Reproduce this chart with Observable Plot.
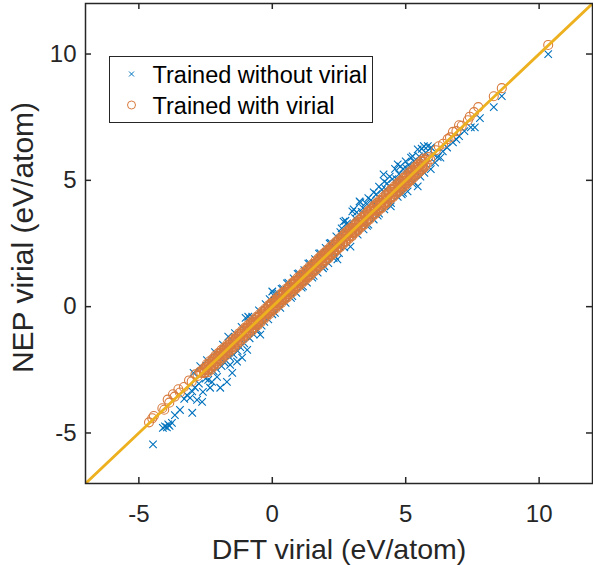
<!DOCTYPE html>
<html><head><meta charset="utf-8">
<script src="https://cdn.jsdelivr.net/npm/d3@7"></script>
<script src="https://cdn.jsdelivr.net/npm/@observablehq/plot@0.6"></script>
<style>
body{margin:0;background:#fff;}
#wrap{position:relative;width:593px;height:565px;font-family:"Liberation Sans",Arial,Helvetica,sans-serif;}
#legend{position:absolute;left:109px;top:56px;width:264px;height:67px;box-sizing:border-box;border:1.5px solid #262626;background:#fff;}
#legend svg{position:absolute;left:0;top:0;}
</style></head>
<body><div id="wrap"></div>
<script>
// ---- data ----
const xTicks = [-5, 0, 5, 10];
const yTicks = [-5, 0, 5, 10];
const axisLimits = [-7, 12];
const diagonal = [-7, 12];
const xLabel = "DFT virial (eV/atom)";
const yLabel = "NEP virial (eV/atom)";
const legendLabels = ["Trained without virial", "Trained with virial"];

// [DFT virial, NEP virial] — trained without virial (blue crosses)
const withoutVirial = [
[-4.47,-5.45],[-4.10,-4.80],[-4.02,-4.74],[-3.95,-4.78],[-3.90,-4.66],[-3.85,-4.72],[-3.76,-4.60],[-3.65,-4.29],[-3.46,-4.09],[-3.00,-4.20],[-3.08,-3.61],[-2.82,-3.69],[-2.63,-3.77],[-2.60,-3.37],[-2.33,-3.21],[-1.95,-3.21],[-2.26,-2.98],[-2.07,-2.78],[-1.70,-2.98],[-1.50,-2.62],[-1.58,-2.30],[-1.32,-2.18],[-1.13,-2.02],[-0.94,-1.71],[-0.45,-1.11],[-0.56,-0.91],[-1.65,-1.19],[-1.00,-0.44],[-0.90,-0.40],
[-3.30,-3.65],[-3.20,-3.50],[-3.00,-3.35],[-2.90,-3.20],[-2.75,-3.05],[-2.50,-2.85],[-2.40,-2.90],[-2.20,-2.55],[-2.10,-2.45],[-1.90,-2.35],[-1.80,-2.20],[-1.60,-2.00],[-1.45,-1.90],[-1.30,-1.75],[-1.20,-1.60],[-1.05,-1.45],[-0.85,-1.25],[-0.70,-1.10],[-0.60,-0.95],[-0.40,-0.75],[-0.30,-0.60],[-0.15,-0.50],[0.00,-0.30],
[-2.95,-2.62],[-2.70,-2.35],[-2.45,-2.12],[-2.15,-1.80],[-1.85,-1.50],[-1.40,-1.05],[-1.15,-0.80],[-0.75,-0.40],[-0.50,-0.15],[-0.25,0.10],
[0.00,0.60],[0.05,0.45],[-0.10,0.30],[0.10,-0.25],[0.20,0.55],[0.30,-0.05],[0.40,0.72],[0.50,0.15],[0.60,0.95],[0.70,0.35],[0.80,1.12],[0.90,0.55],[1.00,1.32],[1.10,0.75],[1.20,1.45],[1.30,0.95],[1.40,1.72],[1.50,1.15],[1.60,1.88],[1.70,1.35],[1.80,2.12],[1.90,1.52],[2.00,2.33],[2.10,1.72],[2.20,2.52],[2.30,1.92],[2.40,2.78],[2.50,2.12],
[2.67,3.37],[3.00,3.77],[3.30,4.13],[3.16,3.73],[2.74,3.40],[3.05,3.85],[3.27,4.17],[2.60,3.10],[2.80,3.30],[3.10,3.50],[3.40,3.90],[3.50,4.10],[3.60,4.30],[3.70,4.22],[3.80,4.52],[3.90,4.45],[4.00,4.75],[4.10,4.62],[4.17,5.24],[4.20,4.95],[4.30,4.88],[4.40,5.15],[4.50,5.05],[4.60,5.45],[4.70,5.63],[4.75,5.25],[4.80,5.55],[4.90,5.45],[5.00,5.75],[5.10,5.60],[5.20,5.90],[5.26,5.95],[5.30,5.75],[5.45,6.23],[5.50,5.95],[5.60,6.25],[5.68,6.35],[5.83,6.35],
[2.44,1.87],[2.93,2.38],[3.42,3.06],[3.80,3.45],[4.44,3.97],[5.07,4.56],[5.45,4.76],[5.94,5.44],[2.70,2.35],[3.20,2.85],[3.60,3.25],[4.00,3.68],[4.20,3.85],[4.70,4.35],[4.90,4.50],[5.30,4.95],[5.70,5.30],[6.10,5.70],[6.30,5.90],
[6.05,6.03],[6.39,6.15],[6.77,6.50],[7.00,6.75],[7.44,7.10],[7.59,7.10],[7.78,7.46],[8.30,7.90],[8.60,8.33],[10.34,10.00],[6.55,6.30],[6.90,6.62],[7.20,6.95],
[0.15,0.52],[0.35,0.70],[0.55,0.92],[0.75,0.42],[0.95,1.30],[1.15,0.80],[1.35,1.70],[1.55,1.22],[1.75,2.10],[1.95,1.60],[2.15,2.50],[2.35,2.00],[2.55,2.95],[2.85,3.25],[3.35,3.75],[3.55,3.20],[3.75,4.15],[3.95,3.60],[4.25,4.65],[4.45,4.10],[4.65,5.05],[4.85,4.45],[5.05,5.45],[5.25,4.88],[5.55,5.15],[5.75,6.10],[5.95,6.30],[6.20,5.92]
];

// [DFT virial, NEP virial] — trained with virial (orange circles)
const withVirial = [
[-4.62,-4.58],[-4.50,-4.42],[-4.44,-4.33],[-4.12,-4.02],[-4.05,-4.08],[-3.92,-3.68],[-3.86,-3.80],[-3.72,-3.47],[-3.66,-3.56],[-3.52,-3.27],[-3.46,-3.40],[-3.31,-3.18],[-3.12,-2.92],[-3.02,-2.96],[-2.88,-2.68],[-2.80,-2.74],[-2.72,-2.58],[-2.66,-2.62],
[-2.60,-2.47],[-2.55,-2.63],[-2.49,-2.40],[-2.44,-2.50],[-2.38,-2.27],[-2.33,-2.44],[-2.27,-2.19],[-2.21,-2.31],[-2.16,-2.03],[-2.10,-2.21],[-2.04,-1.97],[-1.99,-2.07],[-1.93,-1.81],[-1.88,-1.99],[-1.82,-1.73],[-1.76,-1.85],[-1.71,-1.58],[-1.65,-1.77],[-1.60,-1.51],[-1.54,-1.62],[-1.48,-1.36],[-1.43,-1.54],[-1.37,-1.28],[-1.32,-1.40],[-1.26,-1.13],[-1.20,-1.32],[-1.15,-1.06],[-1.09,-1.18],[-1.04,-0.90],[-0.98,-1.10],[-0.92,-0.83],[-0.87,-0.95],[-0.81,-0.68],[-0.75,-0.88],[-0.70,-0.60],[-0.64,-0.72],[-0.58,-0.45],[-0.53,-0.65],[-0.47,-0.38],[-0.42,-0.50],[-0.36,-0.22],[-0.30,-0.43],[-0.25,-0.15],[-0.19,-0.28],[-0.13,0.00],[-0.08,-0.21],[-0.02,0.12],[0.04,-0.10],[0.09,0.19],[0.15,0.05],[0.21,0.34],[0.26,0.12],[0.32,0.42],[0.37,0.27],[0.43,0.57],[0.49,0.34],[0.54,0.64],[0.60,0.49],[0.66,0.80],[0.71,0.56],[0.77,0.87],[0.83,0.71],[0.88,1.02],[0.94,0.79],[1.00,1.10],[1.05,0.94],[1.11,1.25],[1.16,1.01],[1.22,1.32],[1.28,1.16],[1.33,1.48],[1.39,1.24],[1.45,1.55],[1.50,1.39],[1.56,1.70],[1.62,1.46],[1.67,1.77],[1.73,1.61],[1.78,1.93],[1.84,1.68],[1.90,2.00],[1.95,1.84],[2.01,2.15],[2.07,1.91],[2.12,2.22],[2.18,2.06],[2.24,2.38],[2.29,2.13],[2.35,2.45],[2.40,2.28],[2.46,2.60],[2.52,2.36],[2.57,2.67],[2.63,2.51],[2.69,2.83],[2.74,2.58],[2.80,2.90],[2.86,2.73],[2.91,3.05],[2.97,2.80],[3.02,3.12],[3.08,2.96],[3.14,3.28],[3.19,3.03],[3.25,3.35],[3.31,3.18],[3.36,3.50],[3.42,3.25],[3.48,3.58],[3.53,3.41],[3.59,3.73],[3.64,3.48],[3.70,3.80],[3.76,3.63],[3.81,3.95],[3.87,3.70],[3.93,4.03],[3.98,3.86],[4.04,4.18],[4.10,3.93],[4.15,4.25],[4.21,4.08],[4.26,4.40],[4.32,4.15],[4.38,4.48],[4.43,4.31],[4.49,4.63],[4.55,4.38],[4.60,4.70],[4.66,4.53],[4.72,4.85],[4.77,4.60],[4.83,4.93],[4.88,4.76],[4.94,5.08],[5.00,4.83],[5.05,5.15],[5.11,4.98],[5.17,5.30],[5.22,5.05],[5.28,5.38],[5.34,5.21],[5.39,5.53],[5.45,5.28],[5.50,5.60],[5.56,5.43],[5.62,5.74],[5.67,5.50],[5.73,5.81],[5.79,5.66],[5.85,5.92],[5.92,5.83],
[-2.52,-2.52],[-2.30,-2.34],[-2.08,-2.06],[-1.86,-1.89],[-1.64,-1.62],[-1.42,-1.45],[-1.20,-1.18],[-0.98,-1.01],[-0.76,-0.74],[-0.54,-0.57],[-0.32,-0.30],[-0.10,-0.13],[0.12,0.14],[0.34,0.31],[0.56,0.58],[0.78,0.75],[1.00,1.02],[1.22,1.19],[1.44,1.46],[1.66,1.63],[1.88,1.90],[2.10,2.07],[2.32,2.34],[2.54,2.51],[2.76,2.78],[2.98,2.95],[3.20,3.22],[3.42,3.39],[3.64,3.66],[3.86,3.83],[4.08,4.10],[4.30,4.27],[4.52,4.54],[4.74,4.71],[4.96,4.98],[5.18,5.15],[5.40,5.42],[5.62,5.59],
[-2.46,-2.28],[-2.35,-2.16],[-2.24,-2.07],[-2.13,-1.94],[-2.02,-1.84],[-1.91,-1.72],[-1.80,-1.62],[-1.69,-1.50],[-1.58,-1.40],[-1.47,-1.28],[-1.36,-1.18],[-1.25,-1.06],[-1.14,-0.96],[-1.03,-0.84],[-0.92,-0.74],[-0.81,-0.62],[-0.70,-0.52],[-0.59,-0.40],[-0.48,-0.30],[-0.37,-0.18],[-0.26,-0.08],[-0.15,0.04],[-0.04,0.14],[0.07,0.26],[0.18,0.36],[0.29,0.48],[0.40,0.58],[0.51,0.70],[0.62,0.80],[0.73,0.92],[0.84,1.02],[0.95,1.14],[1.06,1.24],[1.17,1.36],[1.28,1.46],[1.39,1.58],[1.50,1.68],[1.61,1.80],[1.72,1.90],[1.83,2.02],[1.94,2.12],[2.05,2.24],[2.16,2.34],[2.27,2.46],[2.38,2.56],[2.49,2.68],[2.60,2.78],[2.71,2.90],[2.82,3.00],[2.93,3.12],[3.04,3.22],[3.15,3.34],[3.26,3.44],[3.37,3.56],[3.48,3.66],[3.59,3.78],[3.70,3.88],[3.81,4.00],[3.92,4.10],[4.03,4.22],[4.14,4.32],[4.25,4.44],[4.36,4.54],[4.47,4.66],[4.58,4.76],[4.69,4.88],[4.80,4.98],[4.91,5.10],[5.02,5.20],[5.13,5.32],[5.24,5.42],[5.35,5.54],[5.46,5.64],[5.57,5.76],[5.68,5.86],
[-2.41,-2.59],[-2.30,-2.49],[-2.19,-2.37],[-2.08,-2.27],[-1.97,-2.15],[-1.86,-2.05],[-1.75,-1.93],[-1.64,-1.83],[-1.53,-1.71],[-1.42,-1.61],[-1.31,-1.49],[-1.20,-1.39],[-1.09,-1.27],[-0.98,-1.17],[-0.87,-1.05],[-0.76,-0.95],[-0.65,-0.83],[-0.54,-0.73],[-0.43,-0.61],[-0.32,-0.51],[-0.21,-0.39],[-0.10,-0.29],[0.01,-0.17],[0.12,-0.07],[0.23,0.05],[0.34,0.15],[0.45,0.27],[0.56,0.37],[0.67,0.49],[0.78,0.59],[0.89,0.71],[1.00,0.81],[1.11,0.93],[1.22,1.03],[1.33,1.15],[1.44,1.25],[1.55,1.37],[1.66,1.47],[1.77,1.59],[1.88,1.69],[1.99,1.81],[2.10,1.91],[2.21,2.03],[2.32,2.13],[2.43,2.25],[2.54,2.35],[2.65,2.47],[2.76,2.57],[2.87,2.69],[2.98,2.79],[3.09,2.91],[3.20,3.01],[3.31,3.13],[3.42,3.23],[3.53,3.35],[3.64,3.45],[3.75,3.57],[3.86,3.67],[3.97,3.79],[4.08,3.89],[4.19,4.01],[4.30,4.11],[4.41,4.23],[4.52,4.33],[4.63,4.45],[4.74,4.55],[4.85,4.67],[4.96,4.77],[5.07,4.89],[5.18,4.99],[5.29,5.11],[5.40,5.21],[5.51,5.33],[5.62,5.43],[5.73,5.55],
[-2.57,-2.50],[-2.46,-2.39],[-2.35,-2.29],[-2.24,-2.17],[-2.13,-2.06],[-2.02,-1.95],[-1.91,-1.84],[-1.80,-1.73],[-1.69,-1.62],[-1.58,-1.51],[-1.47,-1.40],[-1.36,-1.29],[-1.25,-1.18],[-1.14,-1.07],[-1.03,-0.96],[-0.92,-0.85],[-0.81,-0.74],[-0.70,-0.63],[-0.59,-0.52],[-0.48,-0.41],[-0.37,-0.30],[-0.26,-0.19],[-0.15,-0.08],[-0.04,0.03],[0.07,0.14],[0.18,0.25],[0.29,0.36],[0.40,0.47],[0.51,0.58],[0.62,0.69],[0.73,0.80],[0.84,0.91],[0.95,1.02],[1.06,1.13],[1.17,1.24],[1.28,1.35],[1.39,1.46],[1.50,1.57],[1.61,1.68],[1.72,1.79],[1.83,1.90],[1.94,2.01],[2.05,2.12],[2.16,2.23],[2.27,2.34],[2.38,2.45],[2.49,2.56],[2.60,2.67],[2.71,2.78],[2.82,2.89],[2.93,3.00],[3.04,3.11],[3.15,3.22],[3.26,3.33],[3.37,3.44],[3.48,3.55],[3.59,3.66],[3.70,3.77],[3.81,3.88],[3.92,3.99],[4.03,4.10],[4.14,4.21],[4.25,4.32],[4.36,4.43],[4.47,4.54],[4.58,4.65],[4.69,4.76],[4.80,4.87],[4.91,4.98],[5.02,5.09],[5.13,5.20],[5.24,5.31],[5.35,5.42],[5.46,5.53],[5.57,5.64],[5.68,5.75],
[-2.52,-2.59],[-2.41,-2.48],[-2.30,-2.37],[-2.19,-2.26],[-2.08,-2.15],[-1.97,-2.04],[-1.86,-1.93],[-1.75,-1.82],[-1.64,-1.71],[-1.53,-1.60],[-1.42,-1.49],[-1.31,-1.38],[-1.20,-1.27],[-1.09,-1.16],[-0.98,-1.05],[-0.87,-0.94],[-0.76,-0.83],[-0.65,-0.72],[-0.54,-0.61],[-0.43,-0.50],[-0.32,-0.39],[-0.21,-0.28],[-0.10,-0.17],[0.01,-0.06],[0.12,0.05],[0.23,0.16],[0.34,0.27],[0.45,0.38],[0.56,0.49],[0.67,0.60],[0.78,0.71],[0.89,0.82],[1.00,0.93],[1.11,1.04],[1.22,1.15],[1.33,1.26],[1.44,1.37],[1.55,1.48],[1.66,1.59],[1.77,1.70],[1.88,1.81],[1.99,1.92],[2.10,2.03],[2.21,2.14],[2.32,2.25],[2.43,2.36],[2.54,2.47],[2.65,2.58],[2.76,2.69],[2.87,2.80],[2.98,2.91],[3.09,3.02],[3.20,3.13],[3.31,3.24],[3.42,3.35],[3.53,3.46],[3.64,3.57],[3.75,3.68],[3.86,3.79],[3.97,3.90],[4.08,4.01],[4.19,4.12],[4.30,4.23],[4.41,4.34],[4.52,4.45],[4.63,4.56],[4.74,4.67],[4.85,4.78],[4.96,4.89],[5.07,5.00],[5.18,5.11],[5.29,5.22],[5.40,5.33],[5.51,5.44],[5.62,5.55],
[6.13,6.19],[6.24,6.35],[6.40,6.45],[6.57,6.63],[6.66,6.70],[6.77,6.92],[6.90,6.95],[7.00,7.18],[7.10,7.16],[7.33,7.38],[7.40,7.52],[7.56,7.70],[7.72,7.90],[8.30,8.33],[8.60,8.65],[10.34,10.36]
];

// ---- styling ----
const BLUE = "#0072BD", ORANGE = "#D97B3E", YELLOW = "#EDB120", INK = "#262626";
const W = 593, H = 565, ML = 85, MR = 1, MT = 3, MB = 82;
const TICK = 6;
const plotW = W - ML - MR, plotH = H - MT - MB;
const fmt = d => String(d);

const chart = Plot.plot({
  width: W, height: H,
  marginLeft: ML, marginRight: MR, marginTop: MT, marginBottom: MB,
  x: {domain: axisLimits},
  y: {domain: axisLimits},
  style: {fontFamily: '"Liberation Sans", Arial, Helvetica, sans-serif', color: INK, background: "white", overflow: "visible"},
  marks: [
    Plot.dot(withoutVirial, {x: d => d[0], y: d => d[1], symbol: "times", r: 3.5, stroke: BLUE, strokeWidth: 1.1}),
    Plot.dot(withVirial, {x: d => d[0], y: d => d[1], symbol: "circle", r: 4.5, stroke: ORANGE, strokeWidth: 1.1, fill: "none"}),
    Plot.line(diagonal, {x: d => d, y: d => d, stroke: YELLOW, strokeWidth: 2.8, clip: true}),
    Plot.frame({stroke: INK, strokeWidth: 1.5}),
    Plot.tickX(xTicks, {x: d => d, insetTop: plotH - TICK, stroke: INK, strokeWidth: 1.5}),
    Plot.tickX(xTicks, {x: d => d, insetBottom: plotH - TICK, stroke: INK, strokeWidth: 1.5}),
    Plot.tickY(yTicks, {y: d => d, insetRight: plotW - TICK, stroke: INK, strokeWidth: 1.5}),
    Plot.tickY(yTicks, {y: d => d, insetLeft: plotW - TICK, stroke: INK, strokeWidth: 1.5}),
    Plot.axisX(xTicks, {tickSize: 0, tickPadding: 21, fontSize: 24, tickFormat: fmt, label: null, fill: INK}),
    Plot.axisY(yTicks, {tickSize: 0, tickPadding: 9, fontSize: 24, tickFormat: fmt, label: null, fill: INK}),
    Plot.text([xLabel], {text: d => d, frameAnchor: "bottom", textAnchor: "middle", dy: 66, fontSize: 28.5, lineAnchor: "middle", fill: INK}),
    Plot.text([yLabel], {text: d => d, frameAnchor: "left", textAnchor: "middle", rotate: -90, dx: -62, dy: -6, fontSize: 30, lineAnchor: "middle", fill: INK})
  ]
});

const wrap = document.getElementById("wrap");
wrap.appendChild(chart);

// legend box
const leg = document.createElement("div");
leg.id = "legend";
wrap.appendChild(leg);
const ls = d3.select(leg).append("svg").attr("width", 262).attr("height", 65);
const rows = [
  {label: legendLabels[0], cy: 17, kind: "x", color: BLUE},
  {label: legendLabels[1], cy: 48, kind: "o", color: ORANGE}
];
rows.forEach(r => {
  if (r.kind === "x") {
    ls.append("path").attr("d", `M${21.5-2.5},${r.cy-2.5}L${21.5+2.5},${r.cy+2.5}M${21.5-2.5},${r.cy+2.5}L${21.5+2.5},${r.cy-2.5}`)
      .attr("stroke", r.color).attr("stroke-width", 1).attr("fill", "none");
  } else {
    ls.append("circle").attr("cx", 21.5).attr("cy", r.cy).attr("r", 4).attr("stroke", r.color).attr("stroke-width", 1).attr("fill", "none");
  }
  ls.append("text").attr("x", 42.5).attr("y", r.cy + 8.5).attr("font-size", 23.5)
    .attr("font-family", '"Liberation Sans", Arial, Helvetica, sans-serif').attr("fill", "#000").text(r.label);
});
</script></body></html>
